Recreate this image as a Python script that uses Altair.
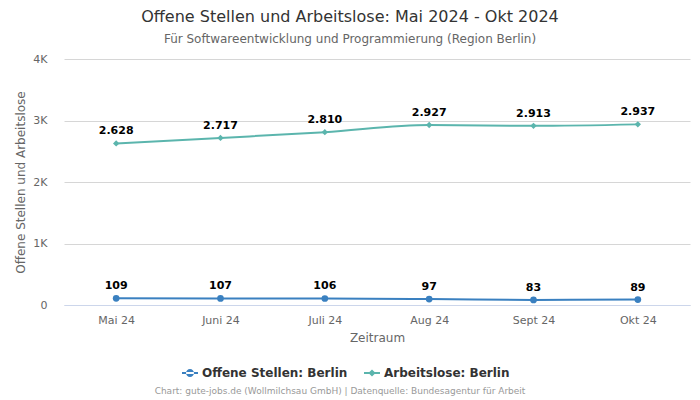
import altair as alt
import pandas as pd

months = ["Mai 24", "Juni 24", "Juli 24", "Aug 24", "Sept 24", "Okt 24"]
offene_stellen = [109, 107, 106, 97, 83, 89]
arbeitslose = [2628, 2717, 2810, 2927, 2913, 2937]
series_names = ["Offene Stellen: Berlin", "Arbeitslose: Berlin"]
series_colors = ["#3a80c0", "#5bb5ad"]
y_ticks = [0, 1000, 2000, 3000, 4000]

rows = []
for name, vals in zip(series_names, [offene_stellen, arbeitslose]):
    for m, v in zip(months, vals):
        rows.append({"Monat": m, "Serie": name, "Wert": v,
                     "Label": f"{v:,}".replace(",", ".")})
df = pd.DataFrame(rows)

FONT = "DejaVu Sans"
bar = "M-1,-0.12L1,-0.12L1,0.12L-1,0.12Z"
circle_path = bar + "M-0.5,0A0.5,0.5,0,1,0,0.5,0A0.5,0.5,0,1,0,-0.5,0Z"
diamond_path = bar + "M0,-0.45L0.45,0L0,0.45L-0.45,0Z"

color_scale = alt.Scale(domain=series_names, range=series_colors)

x = alt.X("Monat:N", sort=months, scale=alt.Scale(type="point", padding=0.5),
          axis=alt.Axis(title="Zeitraum", labelAngle=0, labelColor="#666666",
                        labelFontSize=11, titleColor="#666666", titleFontSize=12,
                        titleFontWeight="normal", domainColor="#ccd6eb", ticks=False,
                        labelPadding=9, titlePadding=7, grid=False))
y = alt.Y("Wert:Q", scale=alt.Scale(domain=[0, 4000]),
          axis=alt.Axis(title="Offene Stellen und Arbeitslose", values=y_ticks,
                        labelExpr="datum.value == 0 ? '0' : (datum.value / 1000) + 'K'",
                        labelColor="#666666", labelFontSize=11, titleColor="#666666",
                        titleFontSize=12, titleFontWeight="normal", domain=False,
                        ticks=False, labelPadding=17, titlePadding=5,
                        gridColor="#d6d6d6"))

legend = alt.Legend(title=None, orient="none", direction="horizontal",
                    legendX=118, legendY=306, labelFontSize=12, labelFontWeight="bold",
                    labelColor="#333333", symbolSize=256, columnPadding=16,
                    labelFont=FONT, symbolOpacity=1, symbolStrokeWidth=0)

color_enc = alt.Color("Serie:N", scale=color_scale, legend=legend)

base = alt.Chart(df)
lines = base.mark_line(interpolate="monotone", strokeWidth=2).encode(
    x=x, y=y, color=color_enc)
legend_layer = base.mark_point(filled=True, opacity=0).encode(
    x=x, y=y, color=color_enc,
    shape=alt.Shape("Serie:N", scale=alt.Scale(domain=series_names, range=[circle_path, diamond_path]),
                    legend=legend))
pts_offene = base.transform_filter(alt.datum.Serie == series_names[0]).mark_point(
    filled=True, opacity=1, shape="circle", size=45).encode(x=x, y=y, color=color_enc)
pts_arbeitslose = base.transform_filter(alt.datum.Serie == series_names[1]).mark_point(
    filled=True, opacity=1, shape="diamond", size=40).encode(x=x, y=y, color=color_enc)
labels = base.mark_text(dy=-12, fontWeight="bold", fontSize=11, color="#000000", font=FONT).encode(
    x=x, y=y, text="Label:N")
footer = alt.Chart(pd.DataFrame({"t": ["Chart: gute-jobs.de (Wollmilchsau GmbH) | Datenquelle: Bundesagentur für Arbeit"]})).mark_text(
    fontSize=9, color="#999999", font=FONT, align="center", baseline="bottom").encode(
    text="t:N", x=alt.value(276), y=alt.value(337))

chart = alt.layer(lines, legend_layer, pts_offene, pts_arbeitslose, labels, footer).properties(
    width=626, height=246,
    title=alt.TitleParams(
        text="Offene Stellen und Arbeitslose: Mai 2024 - Okt 2024",
        subtitle="Für Softwareentwicklung und Programmierung (Region Berlin)",
        anchor="middle", dx=-27, fontSize=16, fontWeight="normal", color="#333333",
        subtitleFontSize=12, subtitleColor="#666666", font=FONT, subtitleFont=FONT,
        offset=8, subtitlePadding=9),
    autosize=alt.AutoSizeParams(type="none"),
    padding={"left": 56, "top": 51, "right": 2, "bottom": 92},
).configure(font=FONT).configure_view(stroke=None)

chart.save("out.html", embed_options={"renderer": "svg", "actions": False})
